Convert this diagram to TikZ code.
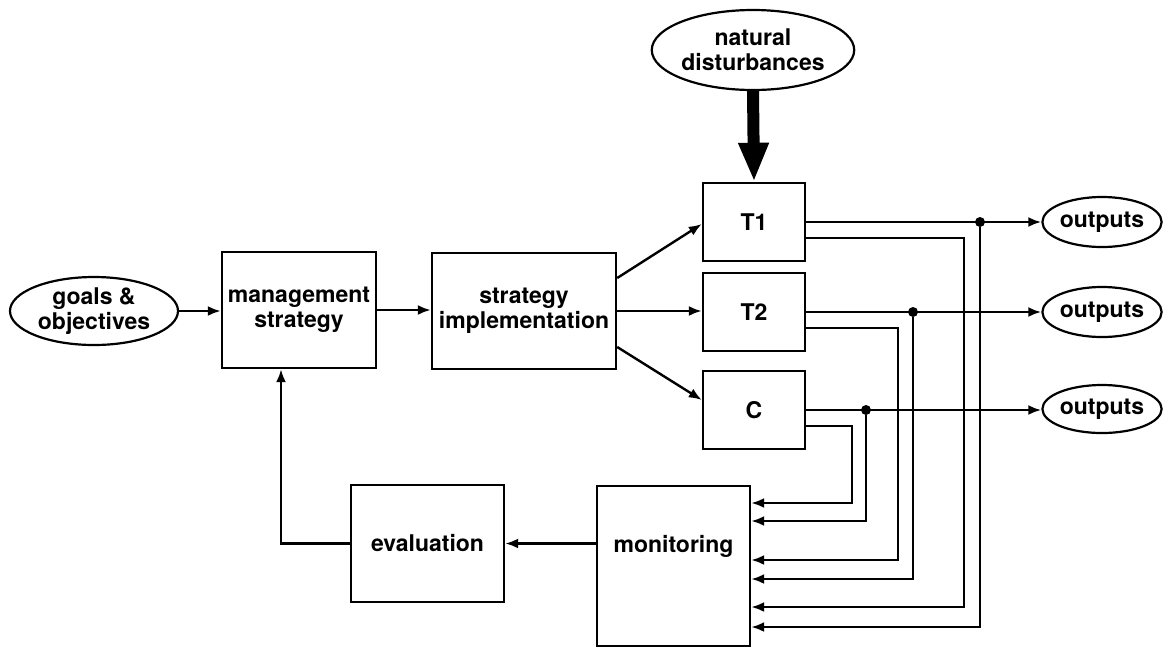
\documentclass[tikz,border=0pt]{standalone}
\usepackage{fontspec}
\setmainfont{TeX Gyre Heros}
\usetikzlibrary{shapes.geometric,arrows.meta}
\begin{document}
\begin{tikzpicture}[x=1pt,y=-1pt,
  every node/.style={font=\fontsize{23}{25}\selectfont\bfseries, align=center, inner sep=0pt},
  box/.style={draw, line width=2.4pt, rectangle},
  oval/.style={draw, line width=2.2pt, ellipse},
  dot/.style={circle, fill=black, minimum size=10pt},
  arr/.style={line width=2.4pt, -{Latex[length=13pt,width=10pt]}},
  bigarr/.style={line width=12pt, -{Triangle[length=39pt,width=28pt]}}]
\useasboundingbox (0,0) rectangle (1164,649);

% nodes
\node[oval, minimum width=168pt, minimum height=68pt] (goals) at (94,311) {goals \&\\objectives};
\node[box, minimum width=154pt, minimum height=116pt] (mgmt) at (299,310) {management\\strategy};
\node[box, minimum width=184pt, minimum height=116pt] (impl) at (524,311) {strategy\\implementation};
\node[oval, minimum width=192pt, minimum height=80pt] (nat) at (753,50) {natural\\disturbances};
\node[box, minimum width=102pt, minimum height=78pt] (T1) at (754,222) {T1};
\node[box, minimum width=102pt, minimum height=78pt] (T2) at (754,312) {T2};
\node[box, minimum width=102pt, minimum height=78pt] (C)  at (754,410) {C};
\node[oval, minimum width=115pt, minimum height=50pt] (out1) at (1102,222) {outputs};
\node[oval, minimum width=115pt, minimum height=50pt] (out2) at (1102,312) {outputs};
\node[oval, minimum width=115pt, minimum height=48pt] (out3) at (1102,409) {outputs};
\node[box, minimum width=153pt, minimum height=160pt] (mon) at (673.5,566) {};
\node (montext) at ([yshift=20pt]mon.center) {monitoring};
\node[box, minimum width=153pt, minimum height=117pt] (eval) at (427.5,543.5) {evaluation};

% branch points
\node[dot] (d1) at (980,222) {};
\node[dot] (d2) at (913,312) {};
\node[dot] (d3) at (866,410) {};

% main chain
\draw[arr] (goals.east) -- (mgmt.west |- goals.east);
\draw[arr] (mgmt.east) -- (impl.west |- mgmt.east);
\draw[arr] ([yshift=33pt]impl.east) -- ([yshift=-2pt]T1.west);
\draw[arr] (impl.east) -- (T2.west |- impl.east);
\draw[arr] ([yshift=-36pt]impl.east) -- ([yshift=10pt]C.west);
\draw[bigarr] (nat.south) -- (T1.north);

% outputs
\draw[arr] (T1.east) -- (out1.west);
\draw[arr] (T2.east) -- (out2.west);
\draw[arr] (C.east) -- (out3.west |- C.east);

% feedback lines into monitoring
\draw[arr] (d1) |- ([yshift=-61pt]mon.east);
\draw[arr] ([yshift=-16pt]T1.east) -- ++(158,0) |- ([yshift=-41pt]mon.east);
\draw[arr] (d2) |- ([yshift=-13pt]mon.east);
\draw[arr] ([yshift=-16pt]T2.east) -- ++(92,0) |- ([yshift=6pt]mon.east);
\draw[arr] (d3) |- ([yshift=45pt]mon.east);
\draw[arr] ([yshift=-16pt]C.east) -- ++(46,0) |- ([yshift=63pt]mon.east);

% evaluation loop
\draw[arr] (mon.west |- eval.east) -- (eval.east);
\draw[arr] (eval.west) -| ([xshift=-18pt]mgmt.south);
\end{tikzpicture}
\end{document}
